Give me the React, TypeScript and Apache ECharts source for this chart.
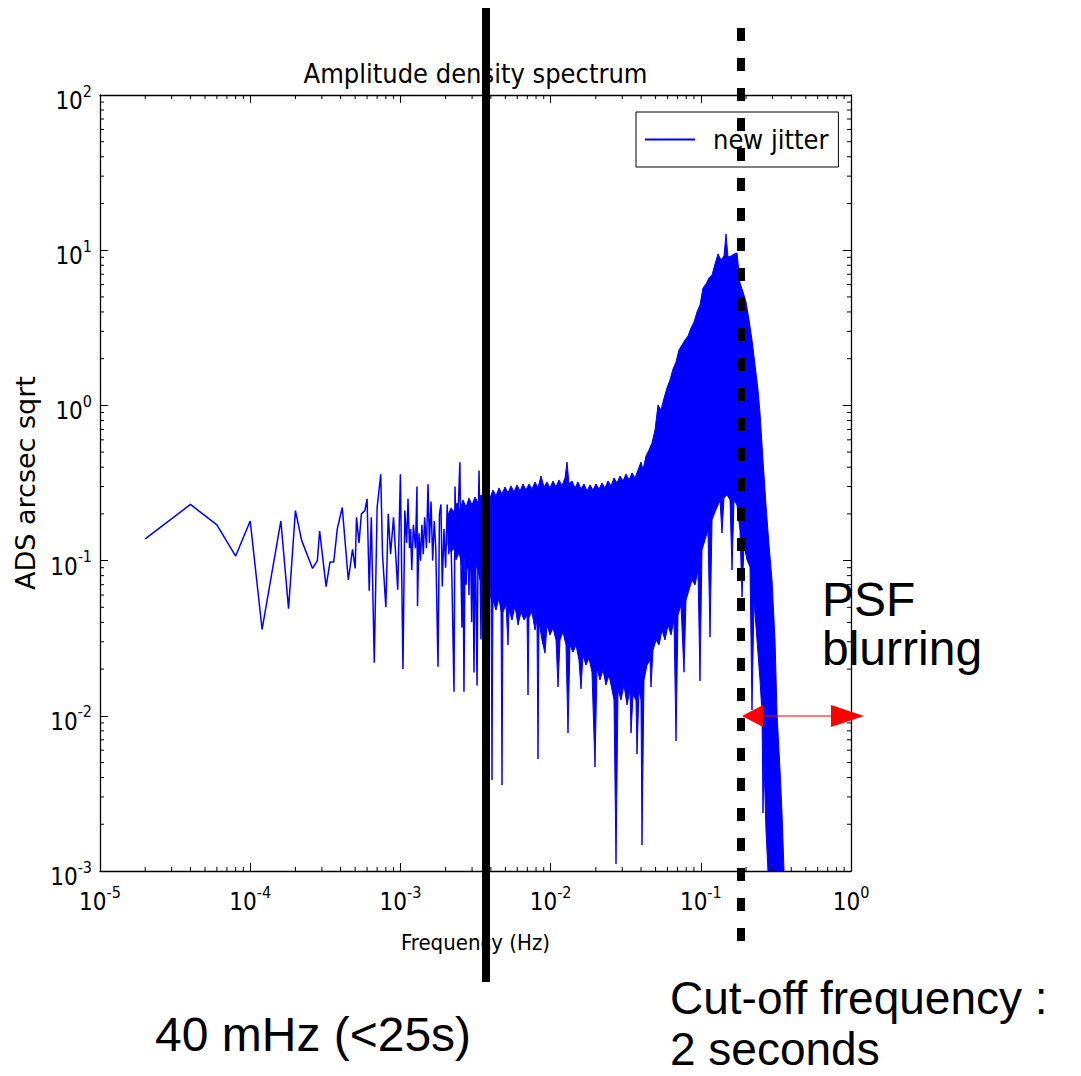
import React, { useEffect, useRef } from 'react';
import * as echarts from 'echarts';

const BLUE = '#0000ff';
const SANS_C = '"DejaVu Sans Condensed", "DejaVu Sans", sans-serif';
const SANS = '"DejaVu Sans", sans-serif';
const ARIAL = '"Liberation Sans", Arial, sans-serif';

const titleText = 'Amplitude density spectrum';
const xAxisName = 'Frequency (Hz)';
const yAxisName = 'ADS arcsec sqrt';
const seriesName = 'new jitter';
const xRange = [1e-5, 1];
const yRange = [1e-3, 100];
const xDecades = [1e-5, 1e-4, 1e-3, 1e-2, 1e-1];
const yDecades = [1e-3, 1e-2, 1e-1, 1, 10];
const minorSteps = [2, 3, 4, 5, 6, 7, 8, 9];

// Sparse low-frequency part of the spectrum: [frequency Hz, amplitude]
const lowFreqSpectrum: [number, number][] = [
  [2e-5, 0.138], [4e-5, 0.23], [6e-5, 0.17], [8e-5, 0.107], [1e-4, 0.18], [1.2e-4, 0.036],
  [1.6e-4, 0.18], [1.8e-4, 0.049], [2e-4, 0.21], [2.2e-4, 0.135], [2.6e-4, 0.089], [2.8e-4, 0.1],
  [2.9e-4, 0.155], [3.2e-4, 0.068], [3.4e-4, 0.098], [3.6e-4, 0.098], [3.8e-4, 0.16], [4.1e-4, 0.22],
  [4.5e-4, 0.075], [4.8e-4, 0.118], [5e-4, 0.089], [5.1e-4, 0.19], [5.3e-4, 0.13], [5.5e-4, 0.2],
  [5.8e-4, 0.21], [6e-4, 0.25], [6.2e-4, 0.064], [6.4e-4, 0.19], [6.7e-4, 0.022], [7e-4, 0.22],
  [7.4e-4, 0.36], [7.6e-4, 0.11], [8e-4, 0.05], [8.3e-4, 0.2], [8.6e-4, 0.11], [9e-4, 0.19],
  [9.6e-4, 0.065], [1e-3, 0.36], [1.04e-3, 0.02], [1.07e-3, 0.21], [1.1e-3, 0.13], [1.124e-3, 0.25],
  [1.15e-3, 0.12], [1.17e-3, 0.16], [1.19e-3, 0.087], [1.22e-3, 0.17], [1.26e-3, 0.12], [1.289e-3, 0.3],
  [1.3e-3, 0.051], [1.33e-3, 0.15], [1.36e-3, 0.1], [1.39e-3, 0.17], [1.42e-3, 0.11], [1.45e-3, 0.19],
  [1.49e-3, 0.12], [1.527e-3, 0.31], [1.56e-3, 0.13], [1.6e-3, 0.24], [1.64e-3, 0.1], [1.68e-3, 0.18],
  [1.72e-3, 0.12], [1.78e-3, 0.0207], [1.82e-3, 0.2], [1.862e-3, 0.23], [1.9e-3, 0.068], [1.95e-3, 0.16],
  [2.0e-3, 0.09], [2.05e-3, 0.23], [2.1e-3, 0.11], [2.15e-3, 0.19], [2.2e-3, 0.08], [2.275e-3, 0.0143],
  [2.31e-3, 0.3], [2.36e-3, 0.12], [2.42e-3, 0.2], [2.49e-3, 0.43], [2.53e-3, 0.09], [2.57e-3, 0.037],
  [2.61e-3, 0.17], [2.65e-3, 0.0143], [2.7e-3, 0.21], [2.74e-3, 0.07], [2.8e-3, 0.2], [2.86e-3, 0.06],
  [2.92e-3, 0.18], [2.98e-3, 0.04], [3.03e-3, 0.2], [3.09e-3, 0.019], [3.15e-3, 0.16], [3.24e-3, 0.0157],
  [3.3e-3, 0.2], [3.34e-3, 0.38], [3.44e-3, 0.031], [3.5e-3, 0.22], [3.6e-3, 0.12], [3.7e-3, 0.25],
  [3.8e-3, 0.1], [3.9e-3, 0.2], [4.0e-3, 0.15],
];

// Dense part: upper edge of the filled noise band
const bandUpper: [number, number][] = [
  [2.074e-3, 0.197], [2.172e-3, 0.218], [2.274e-3, 0.206], [2.381e-3, 0.235], [2.494e-3, 0.212],
  [2.611e-3, 0.246], [2.734e-3, 0.221], [2.863e-3, 0.253], [2.997e-3, 0.228], [3.139e-3, 0.257],
  [3.286e-3, 0.235], [3.44e-3, 0.265], [3.602e-3, 0.246], [3.772e-3, 0.277], [3.949e-3, 0.253],
  [4.135e-3, 0.285], [4.33e-3, 0.261], [4.533e-3, 0.294], [4.747e-3, 0.269], [4.971e-3, 0.298],
  [5.205e-3, 0.273], [5.449e-3, 0.303], [5.706e-3, 0.277], [5.974e-3, 0.307], [6.256e-3, 0.281],
  [6.551e-3, 0.312], [6.859e-3, 0.285], [7.182e-3, 0.312], [7.519e-3, 0.289], [7.873e-3, 0.321],
  [8.244e-3, 0.294], [8.631e-3, 0.351], [9.038e-3, 0.298], [9.463e-3, 0.321], [9.909e-3, 0.294],
  [1.0376e-2, 0.326], [1.0864e-2, 0.298], [1.1375e-2, 0.331], [1.1909e-2, 0.303], [1.2471e-2, 0.341],
  [1.2859e-2, 0.432], [1.3259e-2, 0.312], [1.3879e-2, 0.326], [1.4533e-2, 0.294], [1.5217e-2, 0.321],
  [1.5932e-2, 0.289], [1.6683e-2, 0.312], [1.7468e-2, 0.281], [1.829e-2, 0.307], [1.9151e-2, 0.285],
  [2.0053e-2, 0.312], [2.0997e-2, 0.289], [2.1983e-2, 0.316], [2.3019e-2, 0.294], [2.4102e-2, 0.326],
  [2.5244e-2, 0.303], [2.6434e-2, 0.341], [2.7677e-2, 0.316], [2.898e-2, 0.351], [3.0345e-2, 0.326],
  [3.1774e-2, 0.361], [3.3269e-2, 0.331], [3.4831e-2, 0.367], [3.6472e-2, 0.341], [3.8188e-2, 0.384],
  [3.9978e-2, 0.432], [4.1224e-2, 0.384], [4.3165e-2, 0.472], [4.5197e-2, 0.516], [4.7327e-2, 0.573],
  [4.9558e-2, 0.694], [5.189e-2, 1.006], [5.4327e-2, 0.934], [5.6887e-2, 1.112], [5.9562e-2, 1.298],
  [6.237e-2, 1.46], [6.5308e-2, 1.715], [6.8383e-2, 1.903], [7.1601e-2, 2.28], [7.4961e-2, 2.45],
  [7.8494e-2, 2.64], [8.2187e-2, 2.798], [8.6049e-2, 3.152], [9.0104e-2, 3.446], [9.4341e-2, 4.0],
  [9.878e-2, 4.44], [0.10343, 5.707], [0.1083, 6.059], [0.1134, 6.623], [0.11878, 6.92],
  [0.12438, 8.15], [0.13023, 9.449], [0.13627, 8.65], [0.14269, 9.173], [0.14714, 12.72],
  [0.15171, 9.038], [0.15892, 9.173], [0.16641, 9.449], [0.17423, 9.59], [0.1824, 6.15],
  [0.19099, 5.378], [0.19998, 4.64], [0.2094, 3.55], [0.21921, 2.64], [0.22954, 1.82],
  [0.24034, 1.26], [0.2478, 0.893], [0.25947, 0.445], [0.27169, 0.228], [0.28447, 0.126],
  [0.29788, 0.075], [0.31193, 0.0308], [0.32163, 0.01043], [0.3368, 0.00447], [0.34727, 0.00236],
  [0.35812, 0.001],
];

// Dense part: lower edge of the filled noise band (with its downward spikes)
const bandLower: [number, number][] = [
  [2.074e-3, 0.126], [2.172e-3, 0.1136], [2.274e-3, 0.1205], [2.345e-3, 0.101], [2.456e-3, 0.1123],
  [2.572e-3, 0.0937], [2.693e-3, 0.1074], [2.819e-3, 0.087], [2.952e-3, 0.101], [3.091e-3, 0.0808],
  [3.236e-3, 0.0937], [3.388e-3, 0.075], [3.548e-3, 0.087], [3.715e-3, 0.0646], [3.889e-3, 0.075],
  [4.01e-3, 0.0557], [4.072e-3, 0.00386], [4.135e-3, 0.0557], [4.33e-3, 0.048], [4.533e-3, 0.0574],
  [4.675e-3, 0.0466], [4.747e-3, 0.00358], [4.821e-3, 0.0466], [5.048e-3, 0.0518], [5.205e-3, 0.0286],
  [5.285e-3, 0.048], [5.533e-3, 0.0414], [5.794e-3, 0.051], [6.066e-3, 0.0385], [6.353e-3, 0.0466],
  [6.652e-3, 0.0414], [6.965e-3, 0.0446], [7.072e-3, 0.0136], [7.182e-3, 0.0433], [7.519e-3, 0.0466],
  [7.873e-3, 0.0357], [8.118e-3, 0.0414], [8.244e-3, 0.00527], [8.371e-3, 0.0402], [8.764e-3, 0.0308],
  [9.177e-3, 0.0253], [9.463e-3, 0.0385], [9.909e-3, 0.0332], [1.0376e-2, 0.0368], [1.0864e-2, 0.0308],
  [1.1202e-2, 0.01534], [1.155e-2, 0.0308], [1.2094e-2, 0.0347], [1.2663e-2, 0.0286], [1.3057e-2, 0.00775],
  [1.346e-2, 0.0286], [1.4094e-2, 0.0257], [1.4758e-2, 0.0286], [1.5452e-2, 0.0229], [1.5932e-2, 0.01492],
  [1.6429e-2, 0.0246], [1.7203e-2, 0.0212], [1.8012e-2, 0.0236], [1.8859e-2, 0.0191], [1.9748e-2, 0.00467],
  [2.0362e-2, 0.0203], [2.132e-2, 0.017], [2.2324e-2, 0.0197], [2.3375e-2, 0.0158], [2.4475e-2, 0.0183],
  [2.5633e-2, 0.0147], [2.6434e-2, 0.01265], [2.7256e-2, 0.00111], [2.8104e-2, 0.0147], [2.9428e-2, 0.01265],
  [3.0814e-2, 0.0158], [3.2263e-2, 0.01175], [3.378e-2, 0.0147], [3.4302e-2, 0.00775], [3.5371e-2, 0.0136],
  [3.7036e-2, 0.01265], [3.7607e-2, 0.00567], [3.8779e-2, 0.0147], [3.9978e-2, 0.01265], [4.0594e-2, 0.00147],
  [4.1862e-2, 0.017], [4.3831e-2, 0.0212], [4.59e-2, 0.0229], [4.6609e-2, 0.01534], [4.8062e-2, 0.0265],
  [5.0325e-2, 0.0308], [5.2693e-2, 0.0286], [5.5164e-2, 0.0357], [5.7764e-2, 0.0308], [6.0482e-2, 0.0385],
  [6.3334e-2, 0.0332], [6.6318e-2, 0.0414], [6.8383e-2, 0.00688], [7.0509e-2, 0.0446], [7.3823e-2, 0.0518],
  [7.7302e-2, 0.0191], [7.9708e-2, 0.0557], [8.346e-2, 0.0646], [8.7375e-2, 0.075], [9.1494e-2, 0.0696],
  [9.5799e-2, 0.087], [9.878e-2, 0.01675], [0.10185, 0.117], [0.10665, 0.136], [0.11167, 0.157],
  [0.1152, 0.0322], [0.11878, 0.183], [0.12438, 0.206], [0.13023, 0.228], [0.1342, 0.246],
  [0.13837, 0.1504], [0.14269, 0.253], [0.1494, 0.265], [0.1565, 0.246], [0.16137, 0.087],
  [0.16641, 0.246], [0.17423, 0.228], [0.1824, 0.157], [0.18807, 0.0582], [0.19395, 0.126],
  [0.20307, 0.101], [0.2126, 0.091], [0.21921, 0.0109], [0.22606, 0.0557], [0.23669, 0.0308],
  [0.2478, 0.017], [0.25551, 0.01043], [0.25947, 0.00236], [0.26349, 0.00519], [0.27169, 0.00184],
  [0.28014, 0.001],
];

const annotations = {
  psf: 'PSF\nblurring',
  left: '40 mHz (<25s)',
  cut: 'Cut-off frequency :\n2 seconds',
};

const xMinorTicks: number[] = [];
xDecades.forEach((d) => minorSteps.forEach((m) => xMinorTicks.push(m * d)));
const yMinorTicks: number[] = [];
yDecades.forEach((d) => minorSteps.forEach((m) => yMinorTicks.push(m * d)));

const powLabel = (v: number) => {
  const n = Math.round(Math.log10(v));
  return `{b|10}{s|${n}}`;
};

const tickRich = {
  b: { fontSize: 24, fontFamily: SANS_C, color: '#000', lineHeight: 24, padding: [12, 0, 0, 0] },
  s: { fontSize: 16, fontFamily: SANS_C, color: '#000', lineHeight: 22, verticalAlign: 'top' },
};

const axisCommon = (showLabel: boolean, margin: number) => ({
  type: 'log',
  logBase: 10,
  axisLine: { show: true, lineStyle: { color: '#000', width: 1.3 } },
  axisTick: { show: true, inside: true, length: 8, lineStyle: { color: '#000', width: 1 } },
  minorTick: { show: false },
  splitLine: { show: false },
  minorSplitLine: { show: false },
  axisLabel: { show: showLabel, formatter: powLabel, rich: tickRich, margin },
});

export default function App() {
  const ref = useRef<HTMLDivElement>(null);
  useEffect(() => {
    if (!ref.current) return;
    const chart = echarts.init(ref.current, undefined, { renderer: 'svg' });
    const option: any = {
      animation: false,
      backgroundColor: '#ffffff',
      grid: { left: 100, top: 95, width: 751, height: 776, containLabel: false, outerBoundsMode: 'none' },
      legend: {
        show: true,
        left: 636,
        top: 112,
        data: [{ name: seriesName, icon: 'rect' }],
        itemWidth: 50,
        itemHeight: 2,
        padding: [14, 10, 14, 9],
        borderColor: '#000',
        borderWidth: 1,
        borderRadius: 0,
        selectedMode: false,
        textStyle: { fontSize: 27, fontFamily: SANS_C, color: '#000', padding: [0, 0, 0, 13] },
      },
      xAxis: [
        {
          ...axisCommon(true, 13),
          min: xRange[0], max: xRange[1], position: 'bottom',
          name: xAxisName, nameLocation: 'middle', nameGap: 60,
          nameTextStyle: { fontSize: 22, fontFamily: SANS_C, color: '#000' },
        },
        { ...axisCommon(false, 8), min: xRange[0], max: xRange[1], position: 'top' },
      ],
      yAxis: [
        {
          ...axisCommon(true, 8),
          min: yRange[0], max: yRange[1], position: 'left',
          name: yAxisName, nameLocation: 'middle', nameGap: 44,
          nameTextStyle: { fontSize: 27, fontFamily: SANS, color: '#000' },
        },
        { ...axisCommon(false, 8), min: yRange[0], max: yRange[1], position: 'right' },
      ],
      series: [
        {
          name: 'band',
          type: 'custom',
          xAxisIndex: 0,
          yAxisIndex: 0,
          silent: true,
          data: [bandUpper[0]],
          encode: { x: 0, y: 1 },
          renderItem: (_params: any, api: any) => {
            const pts: number[][] = [];
            for (const d of bandUpper) pts.push(api.coord(d));
            for (let i = bandLower.length - 1; i >= 0; i--) pts.push(api.coord(bandLower[i]));
            return {
              type: 'polygon',
              shape: { points: pts },
              style: { fill: BLUE, stroke: BLUE, lineWidth: 1, lineJoin: 'miter' },
            };
          },
          z: 2,
        },
        {
          name: seriesName,
          type: 'line',
          xAxisIndex: 0,
          yAxisIndex: 0,
          data: lowFreqSpectrum,
          showSymbol: false,
          symbol: 'none',
          color: BLUE,
          lineStyle: { color: BLUE, width: 1.5 },
          silent: true,
          z: 3,
        },
        {
          name: 'minorTicks',
          type: 'custom',
          xAxisIndex: 0,
          yAxisIndex: 0,
          silent: true,
          clip: false,
          data: [[0.01, 1]],
          encode: { x: 0, y: 1 },
          renderItem: (_params: any, api: any) => {
            const children: any[] = [];
            const st = { stroke: '#000', lineWidth: 1 };
            for (const v of xMinorTicks) {
              const [x, yb] = api.coord([v, yRange[0]]);
              const [, yt] = api.coord([v, yRange[1]]);
              children.push({ type: 'line', shape: { x1: x, y1: yb, x2: x, y2: yb - 4 }, style: st });
              children.push({ type: 'line', shape: { x1: x, y1: yt, x2: x, y2: yt + 4 }, style: st });
            }
            for (const v of yMinorTicks) {
              const [xl, y] = api.coord([xRange[0], v]);
              const [xr] = api.coord([xRange[1], v]);
              children.push({ type: 'line', shape: { x1: xl, y1: y, x2: xl + 4, y2: y }, style: st });
              children.push({ type: 'line', shape: { x1: xr, y1: y, x2: xr - 4, y2: y }, style: st });
            }
            return { type: 'group', children };
          },
          z: 6,
        },
      ],
      graphic: [
        {
          type: 'text', z: 100,
          style: { text: titleText, x: 475.5, y: 73, align: 'center', verticalAlign: 'middle', fontSize: 27, fontFamily: SANS_C, fill: '#000' },
        },
        { type: 'line', z: 100, shape: { x1: 486, y1: 8, x2: 486, y2: 982 }, style: { stroke: '#000', lineWidth: 8 } },
        { type: 'line', z: 100, shape: { x1: 741, y1: 28, x2: 741, y2: 941 }, style: { stroke: '#000', lineWidth: 8, lineDash: [13, 17] } },
        { type: 'line', z: 100, shape: { x1: 760, y1: 716, x2: 835, y2: 716 }, style: { stroke: '#ff0000', lineWidth: 1.2 } },
        { type: 'polygon', z: 100, shape: { points: [[742, 716], [763, 705], [763, 727]] }, style: { fill: '#ff0000' } },
        { type: 'polygon', z: 100, shape: { points: [[864, 716], [831, 705], [831, 727]] }, style: { fill: '#ff0000' } },
        { type: 'text', z: 100, style: { text: annotations.psf, x: 822, y: 623.5, verticalAlign: 'middle', lineHeight: 49, fontSize: 48, fontFamily: ARIAL, fill: '#000' } },
        { type: 'text', z: 100, style: { text: annotations.left, x: 155, y: 1034, verticalAlign: 'middle', lineHeight: 40, fontSize: 48, fontFamily: ARIAL, fill: '#000' } },
        { type: 'text', z: 100, style: { text: annotations.cut, x: 670, y: 1023.5, verticalAlign: 'middle', lineHeight: 51, fontSize: 46, fontFamily: ARIAL, fill: '#000' } },
      ],
    };
    chart.setOption(option);
    return () => chart.dispose();
  }, []);
  return (
    <div
      ref={ref}
      style={{ position: 'absolute', left: 0, top: 0, width: 1081, height: 1076, background: '#fff' }}
    />
  );
}
